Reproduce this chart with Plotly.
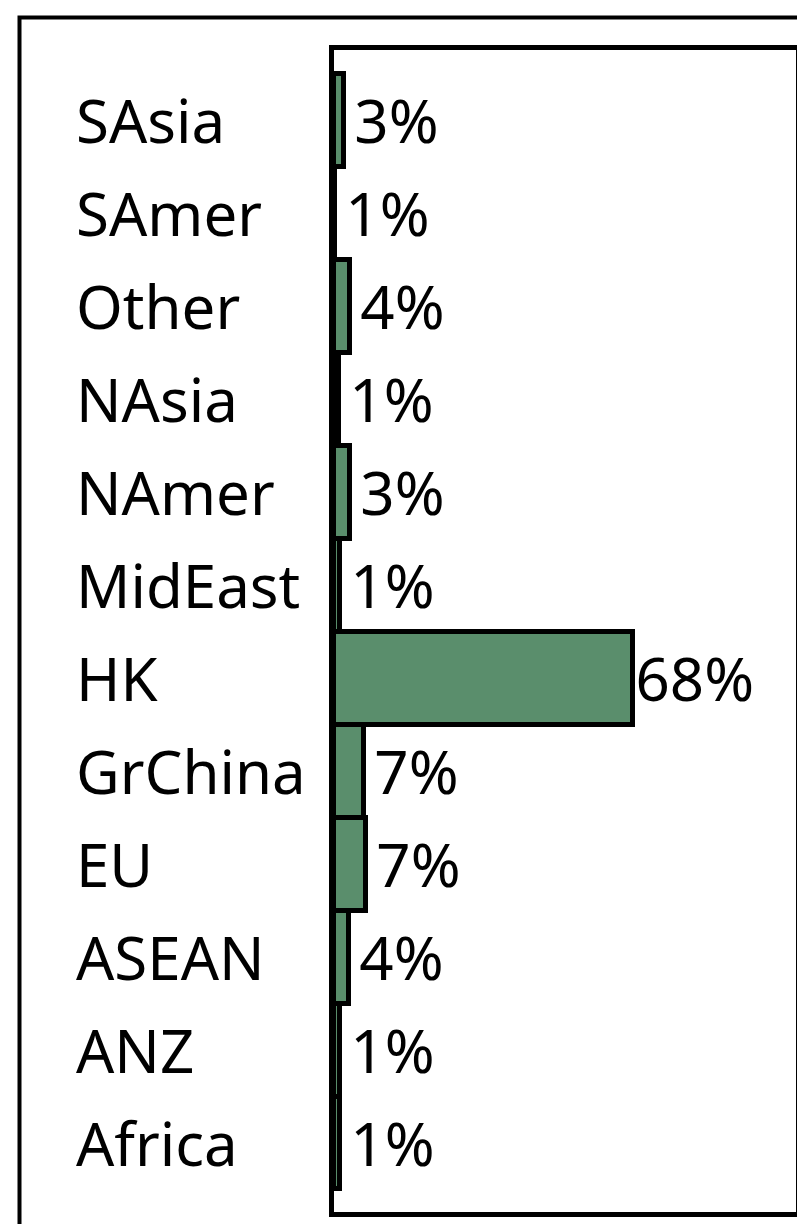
import plotly.graph_objects as go

categories = ["Africa", "ANZ", "ASEAN", "EU", "GrChina", "HK",
              "MidEast", "NAmer", "NAsia", "Other", "SAmer", "SAsia"]
values = [1.4, 1.3, 3.4, 7.2, 6.8, 68, 1.3, 3.6, 1.2, 3.7, 0.3, 2.2]
labels = ["1%", "1%", "4%", "7%", "7%", "68%", "1%", "3%", "1%", "4%", "1%", "3%"]

FONT = "Noto Sans"
W, H = 805, 1224
L, R, T, B = 326, 17, 42, 20
pw, ph = W - L - R, H - T - B

pad = "<span style='font-size:30px'>\u00a0</span>"
bar_text = [(pad + lab) if v < 10 else lab for v, lab in zip(values, labels)]

fig = go.Figure(go.Bar(
    y=categories, x=values, orientation="h",
    text=bar_text, textposition="outside", constraintext="none",
    textfont=dict(family=FONT, size=60, color="black"),
    marker=dict(color="#5A8E6C", line=dict(color="black", width=5)),
    cliponaxis=False,
))

annotations = [
    dict(x=(66 - L) / pw, xref="paper", y=c, yref="y", text=c,
         showarrow=False, xanchor="left", yanchor="middle",
         font=dict(family=FONT, size=60, color="black"))
    for c in categories
]

def px_x(p):
    return (p - L) / pw

def px_y(p):
    return (H - B - p) / ph

fig.update_layout(
    width=W, height=H,
    margin=dict(l=L, r=R, t=T, b=B),
    paper_bgcolor="white", plot_bgcolor="white",
    showlegend=False, bargap=0,
    annotations=annotations,
    shapes=[dict(type="rect", xref="paper", yref="paper",
                 x0=px_x(11.5), x1=px_x(W + 20), y0=px_y(H + 20), y1=px_y(9.5),
                 line=dict(color="black", width=4), fillcolor="rgba(0,0,0,0)",
                 layer="above")],
    xaxis=dict(range=[0, 105], showgrid=False, zeroline=False,
               showticklabels=False, ticks="", showline=True, mirror=True,
               linecolor="black", linewidth=5),
    yaxis=dict(range=[-0.742, 11.753], showgrid=False, zeroline=False,
               showticklabels=False, ticks="", showline=True, mirror=True,
               linecolor="black", linewidth=5),
)

fig.write_html("out.html")
